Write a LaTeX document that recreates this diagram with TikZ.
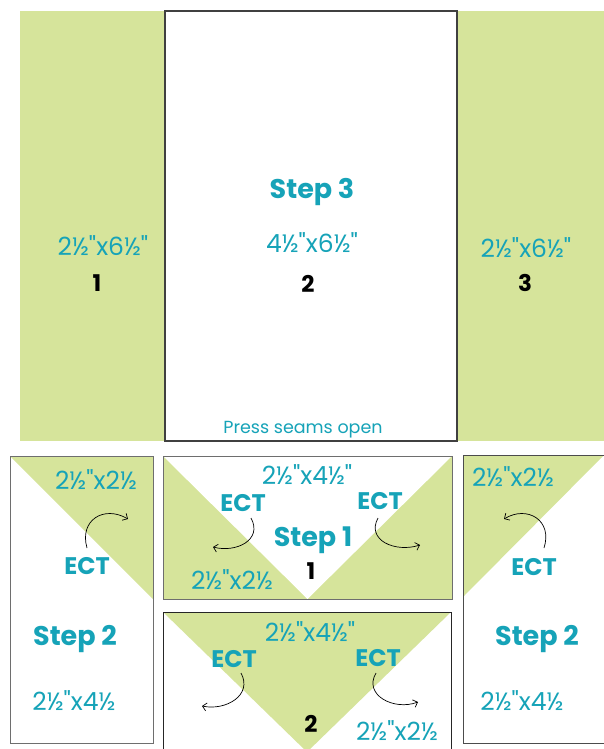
\documentclass[tikz,border=0pt]{standalone}
\usepackage{fontspec}
\setmainfont{Poppins}[Ligatures=TeXOff]
\usetikzlibrary{arrows.meta}
\definecolor{quiltgreen}{RGB}{214,228,155}
\definecolor{quiltteal}{RGB}{22,163,184}
\definecolor{edgegray}{RGB}{110,110,110}
\tikzset{
  dimtext/.style={text=quiltteal, inner sep=0pt, font=\fontsize{25}{28}\selectfont},
  smalltext/.style={text=quiltteal, inner sep=0pt, font=\fontsize{17.5}{20}\selectfont},
  steptext/.style={text=quiltteal, inner sep=0pt, font=\bfseries\fontsize{27}{30}\selectfont},
  ecttext/.style={text=quiltteal, inner sep=0pt, font=\bfseries\fontsize{24}{27}\selectfont},
  numtext/.style={text=black, inner sep=0pt, font=\bfseries\fontsize{23}{26}\selectfont},
  curl/.style={black, line width=0.7pt, -{Straight Barb[length=4pt,width=8pt]}},
  panel/.style={draw=edgegray, line width=0.8pt}
}
\begin{document}
\begin{tikzpicture}[x=1pt,y=-1pt]
\useasboundingbox (0,0) rectangle (604,749);
% ---- top row (Step 3)
\fill[quiltgreen] (20,11) rectangle (165,441);
\fill[quiltgreen] (457,11) rectangle (604,441);
\draw[fill=white, draw=black!75, line width=1.2pt] (165,11) rectangle (457,441);
% ---- bottom left block
\fill[white] (10,456) rectangle (153,743);
\fill[quiltgreen] (10,456) -- (153,456) -- (153,599) -- cycle;
\draw[panel] (10,456) rectangle (153,743);
% ---- middle top block (Step 1)
\fill[quiltgreen] (163,456) rectangle (452,599);
\fill[white] (163,456) -- (452,456) -- (307.5,599) -- cycle;
\draw[panel] (163,456) rectangle (452,599);
% ---- middle bottom block
\fill[white] (163,612) rectangle (451,752);
\fill[quiltgreen] (163,612) -- (451,612) -- (307,752) -- cycle;
\draw[draw=black!85, line width=0.9pt] (163,752) -- (163,612) -- (451,612) -- (451,752);
% ---- bottom right block
\fill[white] (463,455) rectangle (604,743);
\fill[quiltgreen] (463,455) -- (604,455) -- (463,597) -- cycle;
\draw[draw=black!70, line width=0.9pt] (604,455) -- (463,455) -- (463,743) -- (604,743);

% ---- texts, top row
\node[steptext] (step3) at (312,192) {Step 3};
\node[dimtext] (dimB) at (312,243) {4½"x6½"};
\node[numtext] (numB) at (308,284) {2};
\node[dimtext] (dimA) at (103,246) {2½"x6½"};
\node[numtext] (numA) at (97,283) {1};
\node[dimtext] (dimC) at (526,248) {2½"x6½"};
\node[numtext] (numC) at (525,283) {3};
\node[smalltext] (press) at (303,430) {Press seams open};

% ---- texts, bottom left
\node[dimtext] (blDim) at (96,480) {2½"x2½};
\node[ecttext] (blEct) at (87,566) {ECT};
\node[steptext] (blStep) at (75,639) {Step 2};
\node[dimtext] (blDim2) at (74,701) {2½"x4½};

% ---- texts, middle top
\node[dimtext] (mtDim) at (307,475) {2½"x4½"};
\node[ecttext] (mtEctL) at (243,503) {ECT};
\node[ecttext] (mtEctR) at (380,501) {ECT};
\node[steptext] (step1) at (313,540) {Step 1};
\node[numtext] (mtNum) at (311,571) {1};
\node[dimtext] (mtDim2) at (232,580) {2½"x2½};

% ---- texts, middle bottom
\node[dimtext] (mbDim) at (310,632) {2½"x4½"};
\node[ecttext] (mbEctL) at (234,659) {ECT};
\node[ecttext] (mbEctR) at (378,658) {ECT};
\node[numtext] (mbNum) at (311,724) {2};
\node[dimtext] (mbDim2) at (397,731) {2½"x2½};

% ---- texts, bottom right
\node[dimtext] (brDim) at (513,477) {2½"x2½};
\node[ecttext] (brEct) at (534,567) {ECT};
\node[steptext] (brStep) at (537,639) {Step 2};
\node[dimtext] (brDim2) at (522,701) {2½"x4½};

% ---- curved arrows
\coordinate (a1s) at (87,548);  \coordinate (a1e) at (128,519);
\coordinate (a2s) at (251,518); \coordinate (a2e) at (213,547);
\coordinate (a3s) at (378,518); \coordinate (a3e) at (420,545);
\coordinate (a4s) at (241,673); \coordinate (a4e) at (202,706);
\coordinate (a5s) at (376,673); \coordinate (a5e) at (418,702);
\coordinate (a6s) at (544,548); \coordinate (a6e) at (504,519);
\draw[curl] (a1s) .. controls (79,520) and (104,505) .. (a1e);
\draw[curl] (a2s) .. controls (263,540) and (236,553) .. (a2e);
\draw[curl] (a3s) .. controls (366,540) and (395,553) .. (a3e);
\draw[curl] (a4s) .. controls (253,695) and (226,711) .. (a4e);
\draw[curl] (a5s) .. controls (363,695) and (394,711) .. (a5e);
\draw[curl] (a6s) .. controls (553,520) and (527,505) .. (a6e);
\end{tikzpicture}
\end{document}
